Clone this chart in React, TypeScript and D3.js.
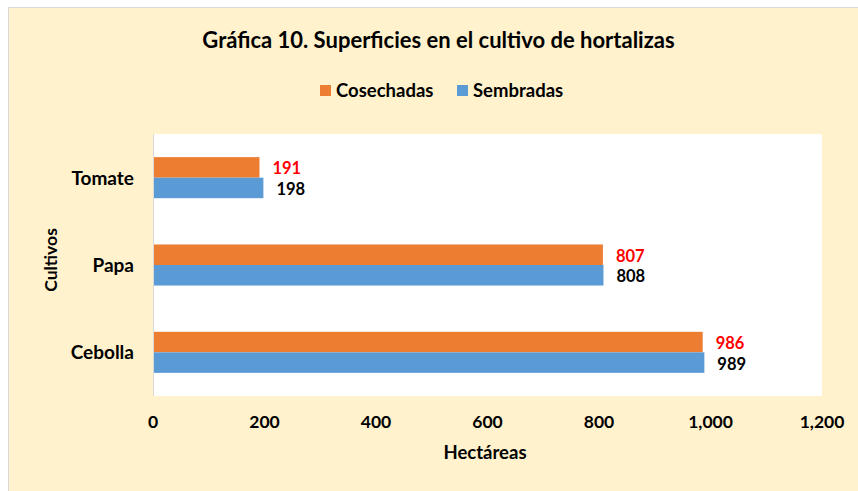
import React from "react";
import * as d3 from "d3";

// data
const categories = ["Tomate", "Papa", "Cebolla"];
const seriesNames = ["Cosechadas", "Sembradas"];
const cosechadas = [191, 807, 986];
const sembradas = [198, 808, 989];
const xTicks = [0, 200, 400, 600, 800, 1000, 1200];

const W = 858;
const H = 491;
const FONT = "Lato, 'Open Sans', sans-serif";

const colors: Record<string, string> = {
  Cosechadas: "#ED7D31",
  Sembradas: "#5B9BD5"
};
const labelColors: Record<string, string> = {
  Cosechadas: "#FF0000",
  Sembradas: "#000000"
};

export default function App() {
  // plot area
  const plot = { left: 153, right: 822, top: 134, bottom: 396 };

  const x = d3.scaleLinear().domain([0, 1200]).range([plot.left, plot.right]);
  const y = d3
    .scaleBand()
    .domain(categories)
    .range([plot.top, plot.bottom])
    .paddingInner(0.53)
    .paddingOuter(0.265);
  const ys = d3.scaleBand().domain(seriesNames).range([0, y.bandwidth()]);
  const fmt = d3.format(",");

  const values: Record<string, number[]> = {
    Cosechadas: cosechadas,
    Sembradas: sembradas
  };

  return (
    <svg
      width={W}
      height={H}
      style={{ position: "absolute", left: 0, top: 0 }}
      fontFamily={FONT}
      fontWeight="bold"
    >
      {/* chart background */}
      <rect x={0} y={0} width={W} height={H} fill="#ffffff" />
      <rect
        x={8.5}
        y={7.5}
        width={870}
        height={530}
        fill="#FFF2CC"
        stroke="#D9D9D9"
        strokeWidth={1}
      />

      {/* title */}
      <text x={438.5} y={48} textAnchor="middle" fontSize={22} fill="#000">
        Gráfica 10. Superficies en el cultivo de hortalizas
      </text>

      {/* legend */}
      <g>
        <rect x={320} y={85} width={11} height={11} fill={colors.Cosechadas} />
        <text x={336} y={96.5} fontSize={18.5} fill="#000">
          Cosechadas
        </text>
        <rect x={457} y={85} width={11} height={11} fill={colors.Sembradas} />
        <text x={473} y={96.5} fontSize={18.5} fill="#000">
          Sembradas
        </text>
      </g>

      {/* plot area */}
      <rect
        x={plot.left}
        y={plot.top}
        width={plot.right - plot.left}
        height={plot.bottom - plot.top}
        fill="#ffffff"
      />

      {/* bars and labels */}
      {categories.map((c, i) => (
        <g key={c}>
          {seriesNames.map(s => {
            const v = values[s][i];
            const by = (y(c) as number) + (ys(s) as number);
            const bh = ys.bandwidth();
            return (
              <g key={s}>
                <rect
                  x={x(0)}
                  y={by}
                  width={x(v) - x(0)}
                  height={bh}
                  fill={colors[s]}
                />
                <text
                  x={x(v) + 13}
                  y={by + bh / 2 + 1}
                  dy="0.36em"
                  fontSize={16.5}
                  fill={labelColors[s]}
                >
                  {v}
                </text>
              </g>
            );
          })}
        </g>
      ))}

      {/* y axis line */}
      <line
        x1={plot.left + 0.5}
        x2={plot.left + 0.5}
        y1={plot.top}
        y2={plot.bottom}
        stroke="#D9D9D9"
      />

      {/* category labels */}
      {categories.map(c => (
        <text
          key={c}
          x={134}
          y={(y(c) as number) + y.bandwidth() / 2}
          dy="0.36em"
          textAnchor="end"
          fontSize={19}
          fill="#000"
        >
          {c}
        </text>
      ))}

      {/* x tick labels */}
      {xTicks.map(t => (
        <text
          key={t}
          x={x(t)}
          y={422}
          dy="0.36em"
          textAnchor="middle"
          fontSize={17.5}
          fill="#000"
        >
          {fmt(t)}
        </text>
      ))}

      {/* axis titles */}
      <text
        x={485}
        y={452}
        dy="0.36em"
        textAnchor="middle"
        fontSize={18.5}
        fill="#000"
      >
        Hectáreas
      </text>
      <text
        transform="translate(51,260) rotate(-90)"
        dy="0.36em"
        textAnchor="middle"
        fontSize={17.5}
        fill="#000"
      >
        Cultivos
      </text>
    </svg>
  );
}
